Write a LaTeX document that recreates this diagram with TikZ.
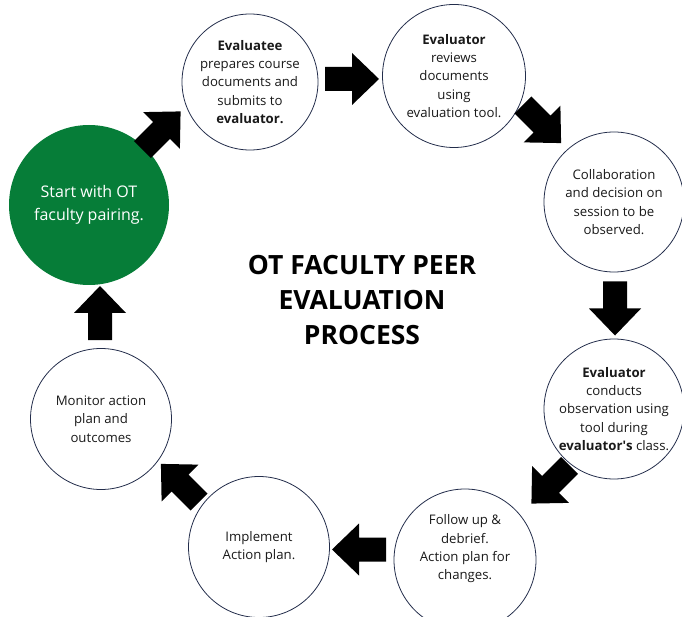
\documentclass[tikz,border=0pt]{standalone}
\usepackage{fontspec}
\setmainfont{Open Sans}
\usetikzlibrary{calc, positioning}
\definecolor{otgreen}{RGB}{6,125,56}
\definecolor{ringline}{RGB}{35,45,75}
\tikzstyle{stage} = [circle, draw=ringline, line width=0.8pt, minimum size=140pt, inner sep=0pt, align=center, text=black!90, font=\fontsize{13.2}{18.3}\selectfont]
\tikzstyle{stagetext} = [align=center, inner sep=0pt, text=black!90, font=\fontsize{13.2}{18.3}\selectfont]
\tikzstyle{start} = [circle, fill=otgreen, minimum size=160pt, inner sep=0pt, align=center, text=white, font=\fontsize{16}{23}\selectfont]
\tikzstyle{heading} = [align=center, text=black, font=\fontsize{26.5}{35}\selectfont\bfseries]
\newcommand{\steparrow}[4][]{%
	\begin{scope}[shift={($(#2)!0.5!(#3)$)}, #1, rotate=#4]
		\fill (-27,-12) -- (0,-12) -- (0,-26) -- (27,0) -- (0,26) -- (0,12) -- (-27,12) -- cycle;
	\end{scope}}

\begin{document}
\begin{tikzpicture}[x=1pt, y=-1pt]
	\useasboundingbox (0,0) rectangle (682,617);
	% stages of the cycle
	\node[start] (pairing) at (89,205) {Start with OT\\faculty pairing.};
	\node[stage, minimum size=136pt] (prepare) at (250,82) {\textbf{Evaluatee}\\prepares course\\documents and\\submits to\\\textbf{evaluator.}};
	\node[stage, minimum size=143pt] (review) at (454,76) {\textbf{Evaluator}\\reviews\\documents\\using\\evaluation tool.};
	\node[stage] (decide) at (614,202) {Collaboration\\and decision on\\session to be\\observed.};
	\node[stage] (observe) at (614,409) {\textbf{Evaluator}\\conducts\\observation using\\tool during\\\textbf{evaluator\textquotesingle s} class.};
	\node[stage, minimum size=142pt] (debrief) at (465,560) {};
	\node[stagetext] (debrieftext) at ([yshift=11pt]debrief.center) {Follow up \&\\debrief.\\Action plan for\\changes.};
	\node[stage, minimum size=141pt] (implement) at (259,547) {Implement\\Action plan.};
	\node[stage, minimum size=141pt] (monitor) at (101,419) {Monitor action\\plan and\\outcomes};
	% title
	\node[heading] (title) at (362,300) {OT FACULTY PEER\\EVALUATION\\PROCESS};
	% arrows
	\steparrow[shift={(-8,-13)}]{pairing}{prepare}{45}
	\steparrow{prepare}{review}{0}
	\steparrow[shift={(8,-15)}]{review}{decide}{-45}
	\steparrow[shift={(1,3)}]{decide}{observe}{-90}
	\steparrow[shift={(11,0)}]{observe}{debrief}{225}
	\steparrow[shift={(-3,-4)}]{debrief}{implement}{180}
	\steparrow{implement}{monitor}{135}
	\steparrow[shift={(5,1)}]{monitor}{pairing}{90}
\end{tikzpicture}
\end{document}
